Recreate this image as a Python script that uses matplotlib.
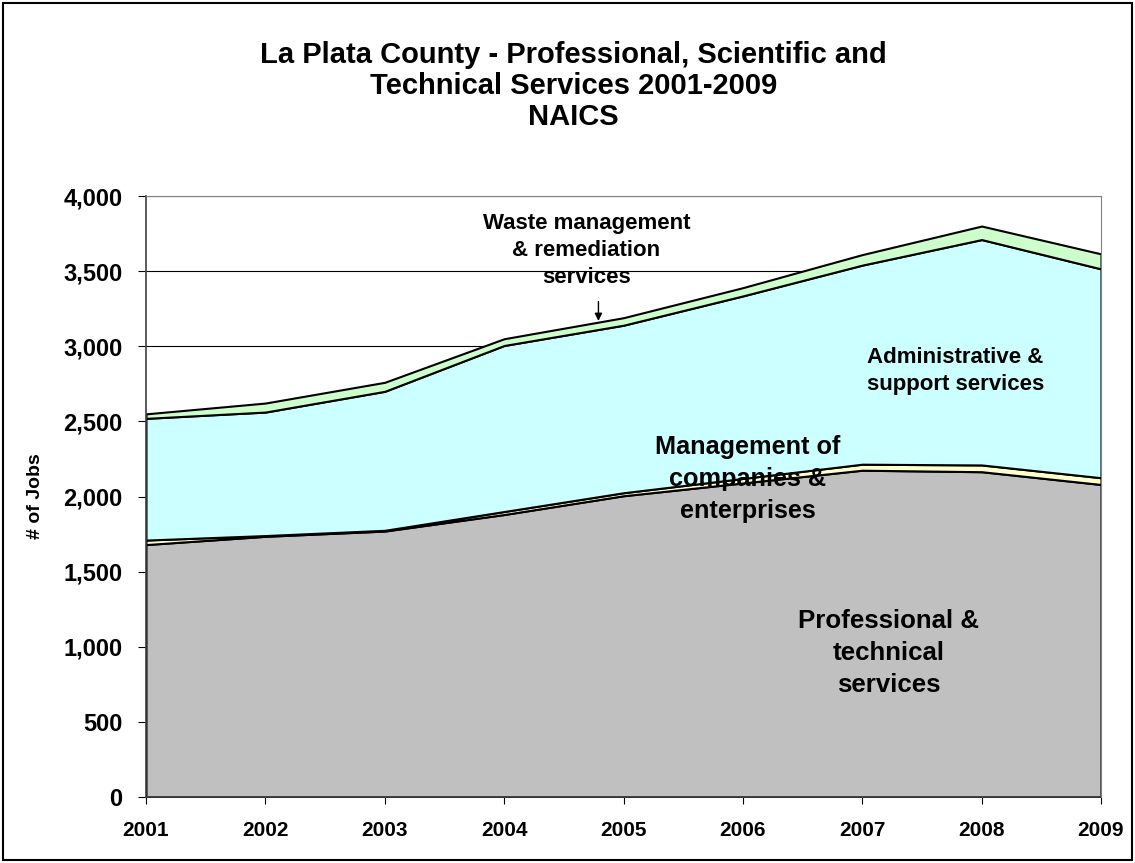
import numpy as np
import matplotlib.pyplot as plt
from matplotlib.ticker import FuncFormatter

plt.rcParams['font.family'] = ['Liberation Sans', 'DejaVu Sans']
plt.rcParams['font.weight'] = 'bold'

years = [2001, 2002, 2003, 2004, 2005, 2006, 2007, 2008, 2009]
professional = [1680, 1735, 1770, 1880, 2005, 2090, 2175, 2165, 2080]
management = [30, 5, 5, 20, 20, 30, 40, 45, 45]
administrative = [810, 822, 925, 1105, 1115, 1215, 1325, 1500, 1390]
waste = [30, 60, 60, 45, 50, 55, 70, 90, 100]

colors = ['#C0C0C0', '#FFFFCC', '#CCFFFF', '#CCFFCC']

fig = plt.figure(figsize=(11.35, 8.63), dpi=100)
ax = fig.add_axes([146 / 1135, 1 - 797 / 863, (1101 - 146) / 1135, (797 - 196) / 863])

# outer frame of the chart
fig.patches.append(plt.Rectangle((0.003, 0.004), 0.994, 0.992, transform=fig.transFigure,
                                 fill=False, edgecolor='black', linewidth=1.5))

ax.set_xlim(2001, 2009)
ax.set_ylim(0, 4000)
ax.set_yticks(np.arange(0, 4001, 500))
ax.set_xticks(years)
ax.yaxis.set_major_formatter(FuncFormatter(lambda v, p: f'{int(v):,}'))
ax.grid(axis='y', color='black', linewidth=0.8, zorder=0)
ax.set_axisbelow(True)

series = [professional, management, administrative, waste]
ax.stackplot(years, *series, colors=colors, edgecolor='black', linewidth=1.5, zorder=2)

for s in ['top', 'right']:
    ax.spines[s].set_color('#808080')
for s in ['left', 'bottom']:
    ax.spines[s].set_color('#404040')
    ax.spines[s].set_linewidth(1.2)
ax.spines['right'].set_zorder(3)

ax.tick_params(axis='y', labelsize=17, length=6, direction='out', pad=11)
ax.tick_params(axis='x', labelsize=15, length=5, direction='out', pad=12)
for lab in ax.get_xticklabels() + ax.get_yticklabels():
    lab.set_fontweight('bold')

ax.set_ylabel('# of Jobs', fontsize=14, fontweight='bold')
ax.yaxis.label.set_va('center')
ax.yaxis.set_label_coords((35.5 - 146) / 955, 0.5)

fig.text(0.505, 1 - 86 / 863, 'La Plata County - Professional, Scientific and\nTechnical Services 2001-2009\nNAICS',
         ha='center', va='center', fontsize=21, fontweight='bold', linespacing=1.15)

ax.text(2004.69, 3637, 'Waste management\n& remediation\nservices', ha='center', va='center',
        fontsize=16, fontweight='bold', linespacing=1.4, zorder=4)
ax.annotate('', xy=(2004.79, 3150), xytext=(2004.79, 3316),
            arrowprops=dict(arrowstyle='-|>', color='black', lw=1, mutation_scale=11), zorder=4)
ax.text(2007.78, 2836, 'Administrative &\nsupport services', ha='center', va='center',
        fontsize=16, fontweight='bold', linespacing=1.4, zorder=4)
ax.text(2006.04, 2117, 'Management of\ncompanies &\nenterprises', ha='center', va='center',
        fontsize=18.2, fontweight='bold', linespacing=1.4, zorder=4)
ax.text(2007.22, 959, 'Professional &\ntechnical\nservices', ha='center', va='center',
        fontsize=18.6, fontweight='bold', linespacing=1.4, zorder=4)

fig.savefig('out.png', dpi=100)
